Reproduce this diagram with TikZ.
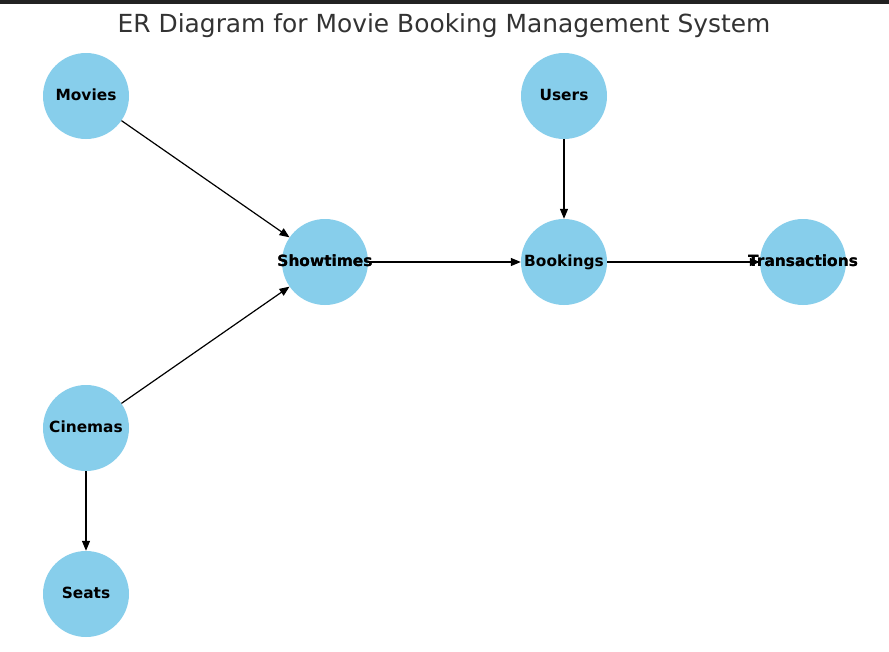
\documentclass[tikz,border=0pt]{standalone}
\usepackage{fontspec}
\setmainfont{DejaVu Sans}
\usetikzlibrary{arrows.meta}
\definecolor{skyblue}{HTML}{87CEEB}
\definecolor{titlegray}{HTML}{333333}
\definecolor{barcol}{HTML}{222222}
\newcommand{\entlabel}[1]{\makebox[0pt]{#1}}
\tikzset{
  entity/.style={circle, fill=skyblue, minimum size=86pt, inner sep=0pt,
    text height=12pt, text depth=3pt,
    font=\fontsize{15.4}{18}\selectfont\bfseries, text=black},
  rel/.style={draw=black, line width=1.2pt, -{Triangle[length=10pt,width=8pt]}},
}
\begin{document}
\begin{tikzpicture}[x=1pt,y=-1pt]
\useasboundingbox (0,0) rectangle (889,651);
\fill[white] (0,0) rectangle (889,651);
\fill[barcol] (0,0) rectangle (889,3.5);
\node[text=titlegray, font=\fontsize{24.9}{28}\selectfont] (title) at (444,26) {ER Diagram for Movie Booking Management System};
\node[entity] (movies) at (86,96) {\entlabel{Movies}};
\node[entity] (users) at (564,96) {\entlabel{Users}};
\node[entity] (showtimes) at (325,262) {\entlabel{Showtimes}};
\node[entity] (bookings) at (564,262) {\entlabel{Bookings}};
\node[entity] (transactions) at (803,262) {\entlabel{Transactions}};
\node[entity] (cinemas) at (86,428) {\entlabel{Cinemas}};
\node[entity] (seats) at (86,594) {\entlabel{Seats}};
\draw[rel] (movies) -- (showtimes);
\draw[rel] (cinemas) -- (showtimes);
\draw[rel] (showtimes) -- (bookings);
\draw[rel] (users) -- (bookings);
\draw[rel] (bookings) -- (transactions);
\draw[rel] (cinemas) -- (seats);
\node[entity, fill=none] at (803,262) {\entlabel{Transactions}};
\node[entity, fill=none] at (325,262) {\entlabel{Showtimes}};
\end{tikzpicture}
\end{document}
